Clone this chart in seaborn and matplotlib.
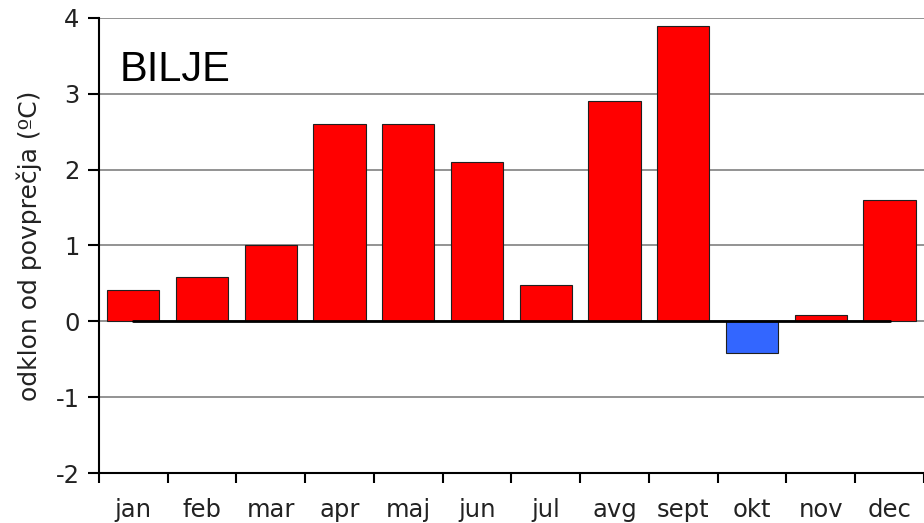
import numpy as np
import matplotlib
matplotlib.use("Agg")
import matplotlib.pyplot as plt
import seaborn as sns

# odklon mesecne temperature od povprecja, Bilje
meseci = ['jan', 'feb', 'mar', 'apr', 'maj', 'jun', 'jul', 'avg', 'sept', 'okt', 'nov', 'dec']
odklon = [0.41, 0.58, 1.0, 2.6, 2.6, 2.1, 0.48, 2.9, 3.9, -0.42, 0.09, 1.6]
barve = ['#ff0000' if v >= 0 else '#3366ff' for v in odklon]
nicla = [0] * len(meseci)

sns.set_style('white')
plt.rcParams['font.family'] = ['DejaVu Sans']
plt.rcParams['axes.unicode_minus'] = False

fig = plt.figure(figsize=(9.24, 5.23), dpi=100)
ax = fig.add_axes([0.107, 0.0956, 0.893, 0.87])

sns.barplot(x=meseci, y=odklon, hue=meseci, palette=barve, legend=False,
            width=0.76, edgecolor='#202020', linewidth=0.8, saturation=1, ax=ax, zorder=2)

# crna crta na nicli (od sredine jan do sredine dec)
ax.plot(np.arange(len(meseci)), nicla, color='black', linewidth=2, zorder=3)

ax.set_ylim(-2, 4)
ax.set_xlim(-0.5, 11.5)
ax.set_yticks(np.arange(-2, 5, 1))
ax.yaxis.grid(True, color='#808080', linewidth=1.2, zorder=0)
ax.set_axisbelow(True)

ax.set_xticks(np.arange(len(meseci)))
ax.set_xticklabels(meseci)
ax.set_xticks(np.arange(-0.5, 12, 1), minor=True)
ax.tick_params(axis='x', which='major', bottom=True, length=0, pad=18, labelsize=17.5, colors='#222222')
ax.tick_params(axis='x', which='minor', bottom=True, length=7, width=1.5, direction='out', color='black')
ax.tick_params(axis='y', left=True, length=8, width=1.5, direction='out', pad=6, labelsize=17.5,
               labelcolor='#222222', color='black')

for s in ['top', 'right']:
    ax.spines[s].set_visible(False)
for s in ['left', 'bottom']:
    ax.spines[s].set_color('black')
    ax.spines[s].set_linewidth(1.5)

ax.set_xlabel('')
ax.set_ylabel('odklon od povprečja (ºC)', fontsize=18, color='#222222', labelpad=10)
ax.text(0.025, 0.93, 'BILJE', transform=ax.transAxes, fontsize=30, color='black',
        va='top', ha='left', family='Liberation Sans')

fig.savefig('out.png', dpi=100)
